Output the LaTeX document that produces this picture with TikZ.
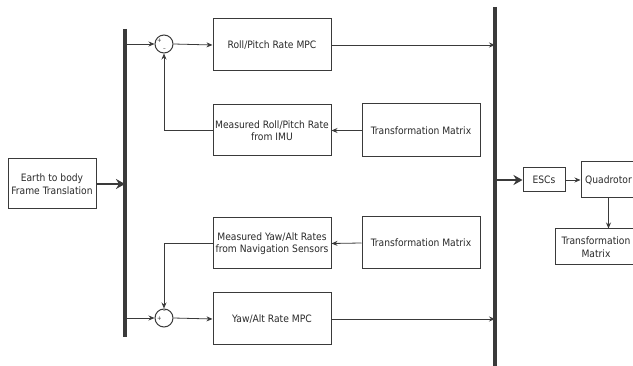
\documentclass[tikz,border=0pt]{standalone}
\usepackage{fontspec}
\setmainfont{DejaVu Sans Condensed}
\usetikzlibrary{arrows.meta}
\definecolor{ln}{HTML}{3A3A3A}
\definecolor{tx}{HTML}{2A2A2A}
\begin{document}
\begin{tikzpicture}[x=1pt,y=-1pt,
  blk/.style={draw=ln,line width=1pt,fill=white,text=tx,font=\fontsize{10.2}{12.5}\selectfont,align=center,inner sep=1pt},
  sumc/.style={draw=ln,line width=1pt,circle,minimum size=18pt,inner sep=0pt,fill=white},
  sig/.style={draw=ln,line width=0.8pt,-{Stealth[length=6pt,width=5pt]}},
  fat/.style={draw=ln,line width=2.8pt,-{Stealth[length=9pt,width=10pt]}},
  busbar/.style={draw=ln,line width=3.8pt},
  sgn/.style={font=\fontsize{6}{6}\selectfont,text=tx,inner sep=0pt}]
\useasboundingbox (0,0) rectangle (633,366);
\clip (0,0) rectangle (633,366);
% bars
\coordinate (lbt) at (125,29);
\coordinate (lbb) at (125,337);
\coordinate (rbt) at (495,7);
\coordinate (rbb) at (495,366);
\draw[busbar] (lbt) -- (lbb);
\draw[busbar] (rbt) -- (rbb);
% blocks
\node[blk,minimum width=118pt,minimum height=52pt] (rp) at (272,45) {Roll/Pitch Rate MPC};
\node[blk,minimum width=118pt,minimum height=51pt] (mrp) at (272,130.5) {Measured Roll/Pitch Rate\\from IMU};
\node[blk,minimum width=118pt,minimum height=53pt] (tm1) at (421,130.5) {Transformation Matrix};
\node[blk,minimum width=88pt,minimum height=50pt] (earth) at (52,184) {Earth to body\\Frame Translation};
\node[blk,minimum width=118pt,minimum height=51pt] (mya) at (272,243.5) {Measured Yaw/Alt Rates\\from Navigation Sensors};
\node[blk,minimum width=118pt,minimum height=52pt] (tm2) at (421,243) {Transformation Matrix};
\node[blk,minimum width=118pt,minimum height=52pt] (ya) at (272,319) {Yaw/Alt Rate MPC};
\node[blk,minimum width=42pt,minimum height=24pt] (esc) at (544,180) {ESCs};
\node[blk,minimum width=55pt,minimum height=36pt] (quad) at (608.5,180) {Quadrotor};
\node[blk,minimum width=82pt,minimum height=36pt] (tm3) at (596,247) {Transformation\\Matrix};
% summing junctions
\node[sumc] (s1) at (164,44) {};
\node[sumc] (s2) at (164,318) {};
\node[sgn] (s1p) at (159.5,41) {+};
\node[sgn] (s1m) at (164.5,49.5) {\textendash};
\node[sgn] (s2p) at (159.5,319) {+};
\node[sgn] (s2m) at (164.5,312) {\textendash};
% junction points
\coordinate (j1) at (lbt |- s1.west);
\coordinate (j2) at (lbt |- s2.west);
\coordinate (j3) at (lbt |- earth.east);
\coordinate (o1) at (rbt |- rp.east);
\coordinate (o2) at (rbt |- ya.east);
\coordinate (o3) at (rbt |- esc.west);
\coordinate (f1) at (s1.south |- mrp.west);
\coordinate (f2) at (s2.north |- mya.west);
\coordinate (q1) at (quad.south |- tm3.north);
% connectors
\draw[fat] (earth.east) -- (j3);
\draw[sig] (j1) -- (s1.west);
\draw[sig] (s1.east) -- (rp.west);
\draw[sig] (rp.east) -- (o1);
\draw[sig] (mrp.west) -- (f1) -- (s1.south);
\draw[sig] (tm1.west) -- (mrp.east);
\draw[sig] (tm2.west) -- (mya.east);
\draw[sig] (mya.west) -- (f2) -- (s2.north);
\draw[sig] (j2) -- (s2.west);
\draw[sig] (s2.east) -- (ya.west);
\draw[sig] (ya.east) -- (o2);
\draw[fat] (o3) -- (esc.west);
\draw[sig] (esc.east) -- (quad.west);
\draw[sig] (quad.south) -- (q1);
\end{tikzpicture}
\end{document}
